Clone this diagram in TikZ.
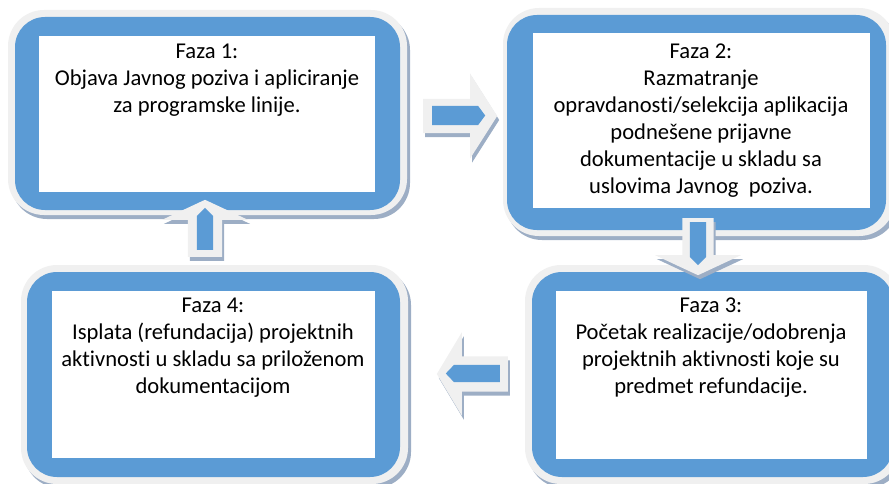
\documentclass[tikz,border=0pt]{standalone}
\usepackage{fontspec}
\setmainfont{Carlito}[Ligatures={NoCommon}]
\usepackage{tikz}
\usetikzlibrary{shapes.arrows, shadows}

\definecolor{phaseblue}{HTML}{5B9BD5}
\definecolor{phaseframe}{HTML}{F0F0F0}
\definecolor{phaseshadow}{HTML}{9DAEC5}

\begin{document}
\begin{tikzpicture}[x=1pt, y=-1pt,
    frame/.style={rectangle, rounded corners=36pt, fill=phaseframe, inner sep=0pt,
        drop shadow={shadow xshift=3pt, shadow yshift=-4pt, fill=phaseshadow, opacity=1}},
    bluebox/.style={rectangle, rounded corners=30pt, fill=phaseblue, inner sep=0pt},
    whitebox/.style={rectangle, fill=white, inner sep=0pt},
    phasetext/.style={anchor=north, align=center, inner sep=0pt,
        font=\fontsize{22.6pt}{27pt}\selectfont},
    outarrow/.style={single arrow, anchor=tail, fill=phaseframe, inner xsep=0pt,
        drop shadow={shadow xshift=2pt, shadow yshift=-4pt, fill=phaseshadow, opacity=1}},
    inarrow/.style={single arrow, anchor=tail, fill=phaseblue, inner xsep=0pt,
        single arrow head extend=0pt}]
    \useasboundingbox (0,0) rectangle (889,484);
    \clip (0,0) rectangle (889,484);

    \node[frame, minimum width=399pt, minimum height=205pt] (g1) at (207.5,112.5) {};
    \node[bluebox, minimum width=385pt, minimum height=193pt] (b1) at (207.5,113.5) {};
    \node[whitebox, minimum width=336pt, minimum height=156pt] (w1) at (207,114) {};
    \node[phasetext] (f1) at (207,43.5) {Faza 1:\\Objava Javnog poziva i apliciranje\\za programske linije.};

    \node[frame, minimum width=392pt, minimum height=228pt] (g2) at (699,122) {};
    \node[bluebox, minimum width=379pt, minimum height=215pt] (b2) at (696.5,122.5) {};
    \node[whitebox, minimum width=337pt, minimum height=175pt] (w2) at (701.5,120.5) {};
    \node[phasetext] (f2) at (701,43.5) {Faza 2:\\Razmatranje\\opravdanosti/selekcija aplikacija\\podnešene prijavne\\dokumentacije u skladu sa\\uslovima Javnog\ \ poziva.};

    \node[frame, minimum width=375pt, minimum height=219pt] (g3) at (712.5,374.5) {};
    \node[bluebox, minimum width=361pt, minimum height=205pt] (b3) at (712.5,374.5) {};
    \node[whitebox, minimum width=311pt, minimum height=168pt] (w3) at (711.5,375) {};
    \node[phasetext] (f3) at (711,297.5) {Faza 3:\\Početak realizacije/odobrenja\\projektnih aktivnosti koje su\\predmet refundacije.};

    \node[frame, minimum width=387pt, minimum height=219pt] (g4) at (214.5,374.5) {};
    \node[bluebox, minimum width=373pt, minimum height=205pt] (b4) at (213.5,374.5) {};
    \node[whitebox, minimum width=323pt, minimum height=167pt] (w4) at (213.5,374.5) {};
    \node[phasetext] (f4) at (213,297.5) {Faza 4:\\Isplata (refundacija) projektnih\\aktivnosti u skladu sa priloženom\\dokumentacijom};

    \node[outarrow, minimum height=74pt, inner ysep=17pt, single arrow head extend=25.5pt,
        single arrow tip angle=115] (a12) at (423,116) {};
    \node[inarrow, minimum height=53pt, inner ysep=9.5pt,
        single arrow tip angle=107] (a12in) at (432,115.5) {};

    \node[outarrow, shape border rotate=270, minimum height=57pt, inner xsep=15.5pt, inner ysep=0pt,
        single arrow head extend=27.5pt, single arrow tip angle=130] (a23) at (698,218) {};
    \node[inarrow, shape border rotate=270, minimum height=43pt,
        inner xsep=8pt, inner ysep=0pt, single arrow tip angle=90] (a23in) at (698,222) {};

    \node[outarrow, shape border rotate=180, minimum height=71pt, inner ysep=17.5pt,
        single arrow head extend=24pt, single arrow tip angle=118] (a34) at (508,374) {};
    \node[inarrow, shape border rotate=180, minimum height=54pt,
        inner ysep=8.5pt, single arrow tip angle=93] (a34in) at (500,373.5) {};

    \node[outarrow, shape border rotate=90, minimum height=57pt, inner xsep=17pt, inner ysep=0pt,
        single arrow head extend=26pt, single arrow tip angle=130] (a41) at (205,257) {};
    \node[inarrow, shape border rotate=90, minimum height=42pt,
        inner xsep=8pt, inner ysep=0pt, single arrow tip angle=90] (a41in) at (205,250) {};
\end{tikzpicture}
\end{document}
